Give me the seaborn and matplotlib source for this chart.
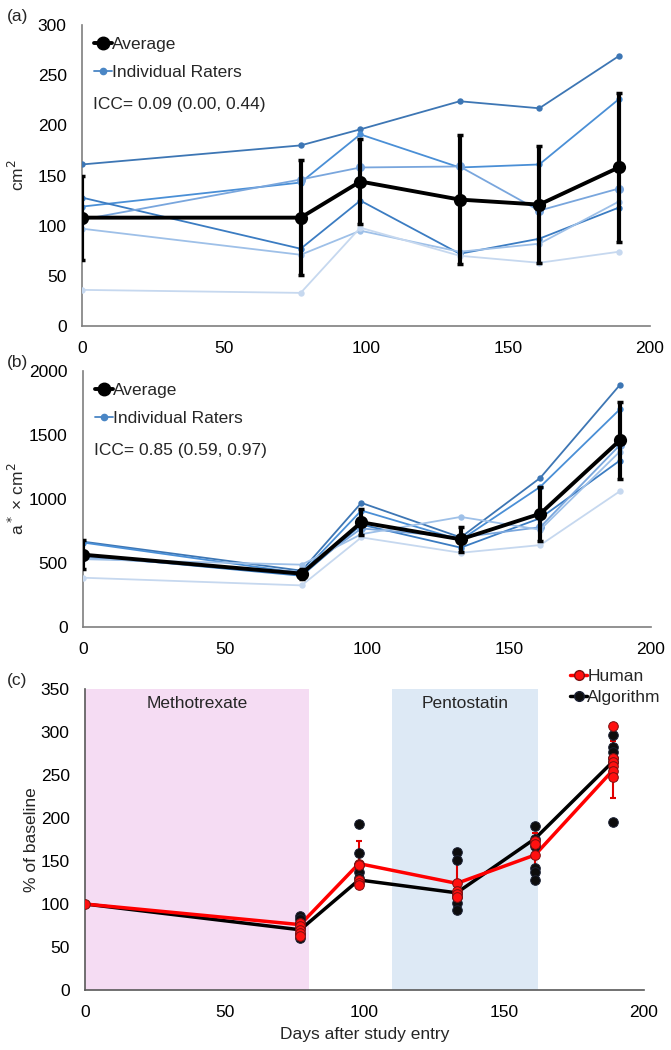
import numpy as np
import pandas as pd
import matplotlib
matplotlib.use("Agg")
import matplotlib.pyplot as plt
import seaborn as sns
from matplotlib.lines import Line2D
from matplotlib.transforms import offset_copy

# ---------------- data ----------------
days = [0, 77, 98, 133, 161, 189]

# panel (a): area, cm^2
a_average = [108, 108, 144, 126, 121, 158]
a_error = [42, 57, 42, 64, 58, 74]
a_rater1 = [161, 180, 196, 224, 217, 269]
a_rater2 = [119, 143, 191, 158, 161, 226]
a_rater3 = [128, 77, 125, 72, 87, 118]
a_rater4 = [106, 146, 158, 159, 115, 137]
a_rater5 = [97, 71, 95, 74, 82, 124]
a_rater6 = [36, 33, 98, 70, 63, 74]

# panel (b): a* x cm^2
b_average = [565, 417, 818, 685, 885, 1458]
b_error = [115, 40, 100, 100, 210, 300]
b_rater1 = [667, 440, 970, 700, 1165, 1890]
b_rater2 = [660, 420, 910, 680, 1095, 1700]
b_rater3 = [560, 400, 800, 620, 850, 1300]
b_rater4 = [545, 430, 770, 700, 780, 1420]
b_rater5 = [530, 487, 725, 860, 760, 1370]
b_rater6 = [385, 325, 700, 580, 640, 1060]

# panel (c): % of baseline
c_human = [100, 76, 147, 124, 157, 256]
c_human_err = [0, 6, 26, 26, 25, 33]
c_algorithm = [100, 70, 128, 113, 176, 266]

human_pt_days = [0, 77, 77, 77, 77, 77, 98, 98, 98, 98, 98, 133, 133, 133, 133,
                 161, 161, 161, 189, 189, 189, 189, 189, 189]
human_pt_vals = [100, 78, 74, 70, 66, 63, 147, 145, 128, 125, 122, 125, 115, 112, 108,
                 173, 170, 157, 307, 270, 265, 260, 255, 248]
algo_pt_days = [77, 77, 77, 77, 77, 77, 98, 98, 98, 98, 98, 133, 133, 133, 133, 133, 133,
                161, 161, 161, 161, 161, 161, 189, 189, 189, 189, 189, 189]
algo_pt_vals = [86, 82, 78, 72, 65, 60, 193, 159, 145, 137, 130, 160, 151, 113, 108, 101, 93,
                191, 176, 167, 142, 137, 128, 297, 283, 277, 270, 265, 195]

periods = ["Methotrexate", "Pentostatin"]
period_start = [0, 110]
period_end = [80, 162]

rater_colors = ["#3d76b4", "#4a8fd6", "#3b7cc2", "#79a6dd", "#9ec0e8", "#c6d8ef"]
rater_msize = [4.6, 4.6, 4.6, 6.5, 4.6, 4.6]

# ---------------- style ----------------
sns.set_style("white")
plt.rcParams["font.family"] = ["Liberation Sans", "DejaVu Sans"]
plt.rcParams["font.size"] = 12
FS = 12.5

fig = plt.figure(figsize=(6.71, 10.5), dpi=100)
H = 1050.0
W = 671.0


def ax_at(left, right, top, bottom):
    return fig.add_axes([left / W, 1 - bottom / H, (right - left) / W, (bottom - top) / H])


def style_axis(ax, spine_col="#7f7f7f"):
    for s in ["top", "right"]:
        ax.spines[s].set_visible(False)
    for s in ["left", "bottom"]:
        ax.spines[s].set_color(spine_col)
        ax.spines[s].set_linewidth(1.2)
    ax.tick_params(length=0, labelsize=FS, pad=11, colors="black")
    ax.grid(False)


def place_ylabel(ax, left_px, width_px, right_edge_px):
    # y-label anchor is the right edge of the rotated text
    ax.yaxis.set_label_coords((right_edge_px - left_px) / width_px, 0.5)


def rater_panel(ax, raters, avg, err, ylim, yticks, ylabel, icc):
    for i, r in enumerate(raters):
        df = pd.DataFrame({"day": days, "v": r})
        sns.lineplot(data=df, x="day", y="v", ax=ax, color=rater_colors[i], lw=1.3,
                     marker="o", markersize=rater_msize[i], markeredgewidth=0, zorder=3)
    ax.errorbar(days, avg, yerr=err, fmt="none", ecolor="black", elinewidth=3,
                capsize=2.5, capthick=2.5, zorder=4)
    dfa = pd.DataFrame({"day": days, "v": avg})
    sns.lineplot(data=dfa, x="day", y="v", ax=ax, color="black", lw=2.8, marker="o",
                 markersize=9.5, markeredgewidth=0, zorder=5)
    ax.set_xlim(0, 200)
    ax.set_ylim(*ylim)
    ax.set_xticks([0, 50, 100, 150, 200])
    ax.set_yticks(yticks)
    ax.set_xlabel("")
    ax.set_ylabel(ylabel, fontsize=FS)
    style_axis(ax)
    handles = [Line2D([], [], color="black", lw=2.8, marker="o", markersize=9),
               Line2D([], [], color="#4a86c5", lw=1.3, marker="o", markersize=4.5)]
    ax.legend(handles, ["Average", "Individual Raters"], loc="upper left",
              bbox_to_anchor=(0.0, 1.0), frameon=False, fontsize=FS, handlelength=1.0,
              handletextpad=0.0, labelspacing=0.7, borderaxespad=0.3)
    tr = offset_copy(ax.transAxes, fig=fig, x=0, y=-79, units="dots")
    ax.text(0.02, 1.0, icc, transform=tr, fontsize=FS, va="center", ha="left")


# ---------------- panel (a) ----------------
axa = ax_at(82, 650, 25, 326)
rater_panel(axa, [a_rater1, a_rater2, a_rater3, a_rater4, a_rater5, a_rater6],
            a_average, a_error, (0, 300), [0, 50, 100, 150, 200, 250, 300],
            "cm$^2$", "ICC= 0.09 (0.00, 0.44)")
place_ylabel(axa, 82, 568, 27)
fig.text(7 / W, 1 - 17 / H, "(a)", fontsize=FS, va="center", ha="left")

# ---------------- panel (b) ----------------
axb = ax_at(83, 651, 371, 627)
rater_panel(axb, [b_rater1, b_rater2, b_rater3, b_rater4, b_rater5, b_rater6],
            b_average, b_error, (0, 2000), [0, 500, 1000, 1500, 2000],
            "a$^*$ × cm$^2$", "ICC= 0.85 (0.59, 0.97)")
place_ylabel(axb, 83, 568, 27)
fig.text(7 / W, 1 - 362 / H, "(b)", fontsize=FS, va="center", ha="left")

# ---------------- panel (c) ----------------
axc = ax_at(85, 644, 689, 990)
shade_cols = ["#f5dcf3", "#dde9f5"]
for name, s, e, col in zip(periods, period_start, period_end, shade_cols):
    axc.axvspan(s, e, ymin=0, ymax=1, color=col, lw=0, zorder=0)
    axc.text((s + e) / 2, 333, name, ha="center", va="center", fontsize=FS)

dfh = pd.DataFrame({"day": days, "v": c_human})
dfg = pd.DataFrame({"day": days, "v": c_algorithm})
sns.lineplot(data=dfg, x="day", y="v", ax=axc, color="black", lw=2.5, zorder=3)
sns.lineplot(data=dfh, x="day", y="v", ax=axc, color="#ff0000", lw=2.5, zorder=3)
axc.errorbar(days, c_human, yerr=c_human_err, fmt="none", ecolor="#e00000",
             elinewidth=1.5, capsize=2.5, capthick=1.5, zorder=4)
sns.scatterplot(x=algo_pt_days, y=algo_pt_vals, ax=axc, color="#0d0d0d", s=48,
                edgecolor="#1a2033", linewidth=0.7, zorder=5)
sns.scatterplot(x=human_pt_days, y=human_pt_vals, ax=axc, color="#ff1010", s=48,
                edgecolor="#7a1010", linewidth=0.7, zorder=6)
axc.set_xlim(0, 200)
axc.set_ylim(0, 350)
axc.set_xticks([0, 50, 100, 150, 200])
axc.set_yticks([0, 50, 100, 150, 200, 250, 300, 350])
axc.set_xlabel("Days after study entry", fontsize=FS, labelpad=5)
axc.set_ylabel("% of baseline", fontsize=FS)
style_axis(axc, spine_col="#595959")
place_ylabel(axc, 85, 559, 39)
hh = [Line2D([], [], color="#ff0000", lw=2.5, marker="o", markersize=7,
             markeredgecolor="#7a1010", markerfacecolor="#ff1010"),
      Line2D([], [], color="black", lw=2.5, marker="o", markersize=7,
             markeredgecolor="#1a2033", markerfacecolor="#0d0d0d")]
fig.legend(hh, ["Human", "Algorithm"], loc="upper left",
           bbox_to_anchor=(563 / W, 1 - 662 / H), frameon=False, fontsize=FS,
           handlelength=1.0, handletextpad=0.0, labelspacing=0.35, borderaxespad=0)
fig.text(7 / W, 1 - 680 / H, "(c)", fontsize=FS, va="center", ha="left")

fig.savefig("out.png", dpi=100)
